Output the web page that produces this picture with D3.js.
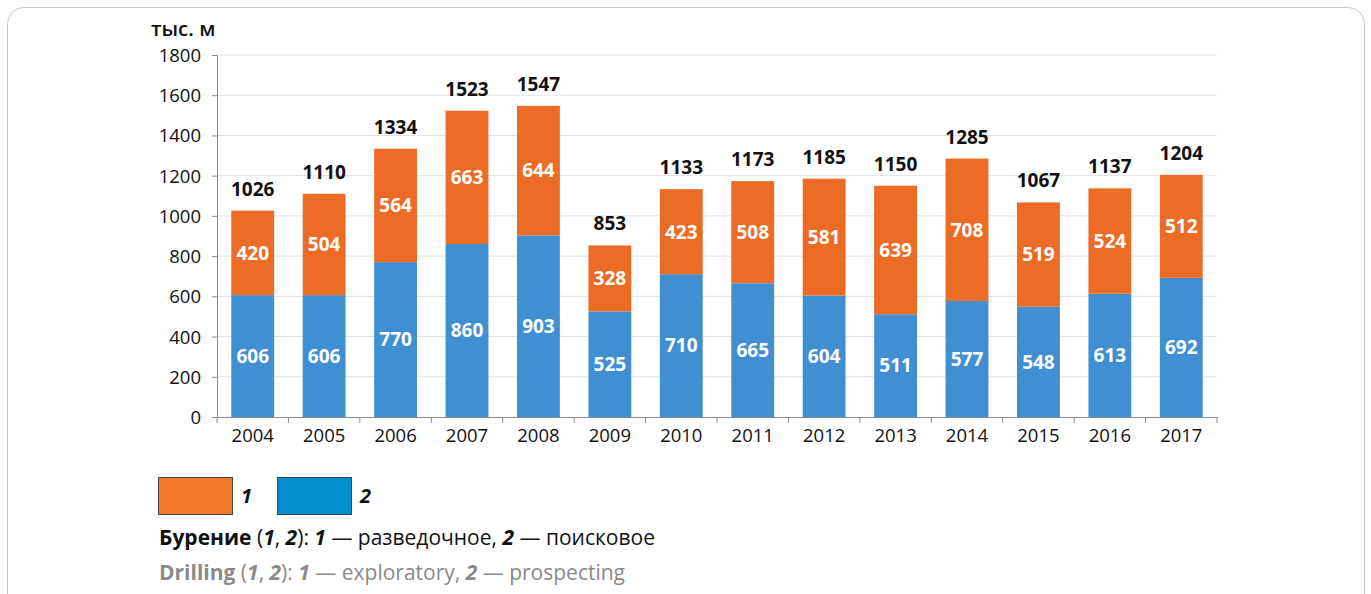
<!DOCTYPE html>
<meta charset="utf-8">
<style>
body { margin: 0; background: #fff; }
svg { font-family: "Open Sans", sans-serif; }
.grid line { stroke: #dde1e8; }
.axis path, .axis line { stroke: #8c8c8c; }
.axis text { font-size: 18.5px; fill: #111; font-family: "Open Sans", sans-serif; }
</style>
<body>
<svg width="1371" height="594"></svg>
<script src="https://cdn.jsdelivr.net/npm/d3@7"></script>
<script>

var years = ["2004","2005","2006","2007","2008","2009","2010","2011","2012","2013","2014","2015","2016","2017"];
var exploratory = [420,504,564,663,644,328,423,508,581,639,708,519,524,512];
var prospecting = [606,606,770,860,903,525,710,665,604,511,577,548,613,692];
var totals = [1026,1110,1334,1523,1547,853,1133,1173,1185,1150,1285,1067,1137,1204];
var yTicks = [0,200,400,600,800,1000,1200,1400,1600,1800];

var svg = d3.select("svg");

// outer frame
svg.append("rect")
    .attr("x", 7.5).attr("y", 7.5)
    .attr("width", 1357).attr("height", 620)
    .attr("rx", 16)
    .attr("fill", "none")
    .attr("stroke", "#c8c8c8");

var x = d3.scaleBand()
    .domain(years)
    .range([217, 1217])
    .paddingInner(0.4)
    .paddingOuter(0.2);

var y = d3.scaleLinear()
    .domain([0, 1800])
    .range([417, 55]);

svg.append("g")
    .attr("class", "grid")
  .selectAll("line")
  .data(yTicks.slice(1))
  .enter().append("line")
    .attr("x1", 217).attr("x2", 1217)
    .attr("y1", function(d) { return y(d); })
    .attr("y2", function(d) { return y(d); });

var rows = years.map(function(yr, i) {
  return { year: yr, p: prospecting[i], e: exploratory[i], t: totals[i] };
});

var g = svg.append("g");

g.selectAll(".blue")
  .data(rows)
  .enter().append("rect")
    .attr("x", function(d) { return x(d.year); })
    .attr("width", x.bandwidth())
    .attr("y", function(d) { return y(d.p); })
    .attr("height", function(d) { return y(0) - y(d.p); })
    .attr("fill", "#3f8fd2");

g.selectAll(".orange")
  .data(rows)
  .enter().append("rect")
    .attr("x", function(d) { return x(d.year); })
    .attr("width", x.bandwidth())
    .attr("y", function(d) { return y(d.p + d.e); })
    .attr("height", function(d) { return y(d.p) - y(d.p + d.e); })
    .attr("fill", "#ec6c26");

// values inside segments
g.selectAll(".lblb")
  .data(rows)
  .enter().append("text")
    .attr("x", function(d) { return x(d.year) + x.bandwidth() / 2; })
    .attr("y", function(d) { return y(d.p / 2); })
    .attr("dy", "0.36em")
    .attr("text-anchor", "middle")
    .attr("fill", "#fff")
    .attr("font-size", 19)
    .attr("font-weight", "bold")
    .text(function(d) { return d.p; });

g.selectAll(".lblo")
  .data(rows)
  .enter().append("text")
    .attr("x", function(d) { return x(d.year) + x.bandwidth() / 2; })
    .attr("y", function(d) { return y(d.p + d.e / 2); })
    .attr("dy", "0.36em")
    .attr("text-anchor", "middle")
    .attr("fill", "#fff")
    .attr("font-size", 19)
    .attr("font-weight", "bold")
    .text(function(d) { return d.e; });

g.selectAll(".lblt")
  .data(rows)
  .enter().append("text")
    .attr("x", function(d) { return x(d.year) + x.bandwidth() / 2; })
    .attr("y", function(d) { return y(d.t) - 15; })
    .attr("text-anchor", "middle")
    .attr("fill", "#111")
    .attr("font-size", 19)
    .attr("font-weight", "bold")
    .text(function(d) { return d.t; });

// axes
svg.append("g")
    .attr("class", "axis")
    .attr("transform", "translate(217,0)")
    .call(d3.axisLeft(y).tickValues(yTicks).tickFormat(d3.format("d"))
      .tickSize(5).tickSizeOuter(0).tickPadding(11))
  .selectAll("text").attr("dy", "0.35em");

var xa = svg.append("g")
    .attr("class", "axis")
    .attr("transform", "translate(0,417)")
    .call(d3.axisBottom(x).tickSize(0).tickPadding(8));
xa.selectAll("text").attr("dy", "0.9em");
xa.selectAll(".sep")
  .data(d3.range(years.length + 1))
  .enter().append("line")
    .attr("x1", function(i) { return 217 + i * x.step(); })
    .attr("x2", function(i) { return 217 + i * x.step(); })
    .attr("y1", 0).attr("y2", 6);

svg.append("text")
    .attr("x", 151).attr("y", 36)
    .attr("font-size", 20.5)
    .attr("font-weight", 600)
    .attr("fill", "#111")
    .text("тыс. м");

// legend
var leg = [
  { c: "#f47a2a", n: "1", x: 158 },
  { c: "#0090d0", n: "2", x: 277 }
];
var lg = svg.append("g").selectAll("g").data(leg).enter().append("g");
lg.append("rect")
    .attr("x", function(d) { return d.x + 0.5; })
    .attr("y", 477.5)
    .attr("width", 74).attr("height", 37)
    .attr("fill", function(d) { return d.c; })
    .attr("stroke", "#444");
lg.append("text")
    .attr("x", function(d) { return d.x + 83; })
    .attr("y", 503)
    .attr("font-size", 20)
    .attr("font-weight", "bold")
    .attr("font-style", "italic")
    .attr("fill", "#111")
    .text(function(d) { return d.n; });

function captionLine(yPos, color, parts) {
  var t = svg.append("text")
      .attr("x", 159).attr("y", yPos)
      .attr("font-size", 21)
      .attr("fill", color);
  parts.forEach(function(p) {
    t.append("tspan")
      .attr("font-weight", p[1] ? "bold" : "normal")
      .attr("font-style", p[2] ? "italic" : "normal")
      .text(p[0]);
  });
}

captionLine(545, "#111", [
  ["Бурение", 1], [" (", 0], ["1", 1, 1], [", ", 0], ["2", 1, 1], ["): ", 0],
  ["1", 1, 1], [" — разведочное, ", 0], ["2", 1, 1], [" — поисковое", 0]
]);
captionLine(580, "#8a8a8a", [
  ["Drilling", 1], [" (", 0], ["1", 1, 1], [", ", 0], ["2", 1, 1], ["): ", 0],
  ["1", 1, 1], [" — exploratory, ", 0], ["2", 1, 1], [" — prospecting", 0]
]);

</script>
</body>
